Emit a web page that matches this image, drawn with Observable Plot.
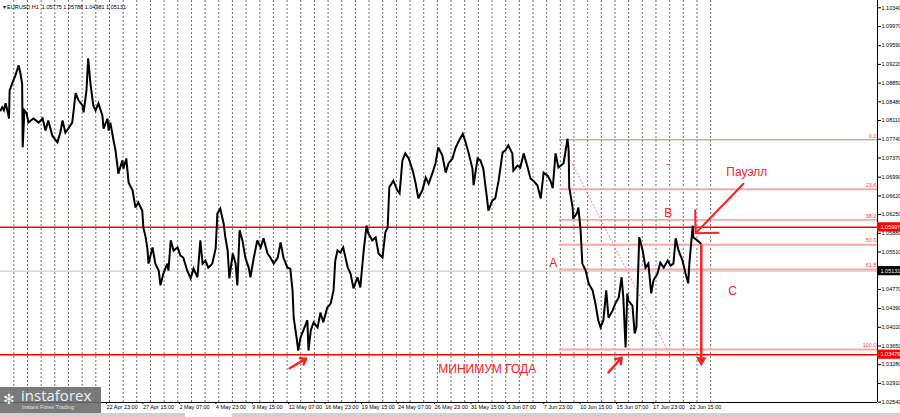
<!DOCTYPE html>
<html><head><meta charset="utf-8">
<script src="https://cdn.jsdelivr.net/npm/d3@7"></script>
<script src="https://cdn.jsdelivr.net/npm/@observablehq/plot@0.6"></script>
<style>
body{margin:0;background:#fff;font-family:"Liberation Sans",Arial,sans-serif;}
#wrap{position:relative;width:900px;height:417px;overflow:hidden;}
#chart svg{display:block}
#bar{height:4px;background:#d0d0d0;position:relative}
#bar div{position:absolute;left:185px;width:47px;top:0;height:4px;background:#fff}
#logo{position:absolute;left:0;top:387px;width:101px;height:26px;background:rgba(105,105,105,0.88);color:#f2f2f2}
#logo .big{position:absolute;left:21px;top:1px;font-family:"Open Sans",sans-serif;font-size:15px;line-height:15px;white-space:nowrap}
#logo .small{position:absolute;left:22px;top:17px;font-size:5.5px;line-height:7px;color:#e0e0e0;white-space:nowrap}
#logo .icon{position:absolute;left:3px;top:4px;font-size:14px;line-height:16px}
</style></head><body>
<div id="wrap">
<div id="chart"></div>
<div id="bar"><div></div></div>
<div id="logo"><span class="icon">✻</span><span class="big">instaforex</span><span class="small">Instant Forex Trading</span></div>
</div>
<script>
// ---- data ----
const priceBars = [0,3,6,9,12,15,16,21,26,32,35,38,39,42,46,49,58,67,74,79,84,91,100,105,109,114,119,126,132,137,144,146,151,154,158,163,167,172,179,181,188,190,193,198,202,207,214,216,221,225,232,237,242,249,251,255,258,260,267,272,278,281,286,293,295,299,304,311,316,321,328,334,339,346,351,355,360,365,372,378,381,386,392,395,399,402,408,413,416,420,425,430,436,439,444,451,457,462,469,474,480,487,492,497,504,509,513,515,520,523,527,532,539,541,545,550,557,562,567,574,580,585,588,592,597,602,610,615,620,627,632,638,643,646,653,659,664,671,676,680,683,690,697,701,706,711,717,724,729,734,741,747,752,759,764,769,776,782,787,794,799,804,812,817,822,829,831,838,843,848,855,857,864,869,875,882,887,892,899,901,908,913,919,926,931,936,943,949,954,961,966,970,975,980,989,996,998,999,1005,1006,1013,1015,1019,1022,1028,1033,1040,1045,1050,1054,1059,1064,1068,1075,1080,1086,1091,1094,1098,1101,1103,1110,1114,1117,1119,1122,1128,1133,1138,1143,1147,1154,1159,1165,1172,1177,1182,1186,1191,1198,1203,1208,1210,1216,1217,1224,1230];
const priceVals = [1.0831,1.0837,1.0831,1.0845,1.0831,1.0815,1.0870,1.0886,1.0900,1.0920,1.0904,1.0884,1.0758,1.0831,1.0825,1.0807,1.0815,1.0807,1.0815,1.0791,1.0811,1.0781,1.0768,1.0787,1.0811,1.0787,1.0795,1.0807,1.0865,1.0851,1.0841,1.0827,1.0870,1.0934,1.0884,1.0841,1.0831,1.0845,1.0821,1.0795,1.0815,1.0791,1.0807,1.0775,1.0752,1.0706,1.0732,1.0716,1.0736,1.0688,1.0673,1.0639,1.0649,1.0633,1.0599,1.0580,1.0558,1.0528,1.0560,1.0528,1.0514,1.0485,1.0508,1.0528,1.0514,1.0574,1.0554,1.0560,1.0544,1.0540,1.0514,1.0499,1.0518,1.0501,1.0574,1.0528,1.0534,1.0520,1.0528,1.0558,1.0627,1.0637,1.0607,1.0580,1.0554,1.0499,1.0548,1.0528,1.0485,1.0594,1.0574,1.0540,1.0520,1.0501,1.0534,1.0574,1.0560,1.0578,1.0548,1.0540,1.0528,1.0540,1.0570,1.0540,1.0520,1.0518,1.0475,1.0421,1.0382,1.0356,1.0382,1.0396,1.0416,1.0356,1.0396,1.0412,1.0402,1.0431,1.0412,1.0441,1.0449,1.0475,1.0534,1.0554,1.0550,1.0560,1.0520,1.0508,1.0479,1.0501,1.0481,1.0554,1.0603,1.0588,1.0574,1.0580,1.0548,1.0540,1.0590,1.0599,1.0679,1.0692,1.0673,1.0667,1.0732,1.0746,1.0736,1.0712,1.0688,1.0657,1.0673,1.0698,1.0686,1.0708,1.0726,1.0758,1.0742,1.0708,1.0726,1.0736,1.0756,1.0768,1.0785,1.0768,1.0748,1.0716,1.0683,1.0736,1.0732,1.0716,1.0653,1.0633,1.0653,1.0657,1.0692,1.0748,1.0752,1.0762,1.0746,1.0712,1.0722,1.0718,1.0746,1.0718,1.0696,1.0692,1.0683,1.0657,1.0708,1.0702,1.0692,1.0677,1.0746,1.0718,1.0726,1.0775,1.0752,1.0679,1.0639,1.0617,1.0629,1.0639,1.0594,1.0528,1.0514,1.0489,1.0475,1.0449,1.0416,1.0402,1.0416,1.0475,1.0421,1.0435,1.0449,1.0461,1.0501,1.0461,1.0362,1.0469,1.0455,1.0445,1.0390,1.0402,1.0475,1.0580,1.0554,1.0520,1.0528,1.0469,1.0495,1.0508,1.0530,1.0520,1.0534,1.0524,1.0528,1.0578,1.0554,1.0534,1.0510,1.0489,1.0528,1.0603,1.0580,1.0574,1.0568];

const dateLabels = ["22 Apr 23:00","27 Apr 15:00","2 May 07:00","4 May 23:00","9 May 15:00","12 May 07:00","16 May 23:00","19 May 15:00","24 May 07:00","26 May 23:00","31 May 15:00","3 Jun 07:00","7 Jun 23:00","10 Jun 15:00","15 Jun 07:00","17 Jun 23:00","22 Jun 15:00"];
const dateBars = [188,252,316,380,444,508,572,636,700,764,828,892,956,1020,1084,1148,1212];
const priceTicks = [1.10340,1.09970,1.09590,1.09220,1.08850,1.08480,1.08110,1.07740,1.07370,1.06990,1.06620,1.06250,1.05880,1.05510,1.04770,1.04390,1.04020,1.03650,1.03280,1.02910,1.02540];

const fibNames = ["0.0","23.6","38.2","50.0","61.8","100.0"];
const fibPrices = [1.07729,1.06750,1.06144,1.05655,1.05166,1.03581];
const fibStartBar = 982;
const fibDiagBars = [982,1172];
const fibDiagPrices = [1.0775,1.0356];

const levelPrices = [1.05997,1.03479];   // red horizontal levels
const bidPrice = 1.05131;
const boxPrices = [1.05997,1.05131,1.03479];

const headerText = "▾ EURUSD,H1  1.05775 1.05788 1.04981 1.05131";
const letterTexts = ["A","B","C"];
const letterBars = [971,1173,1286];
const letterPrices = [1.0528,1.0627,1.0473];
const noteTexts = ["Пауэлл","МИНИМУМ ГОДА"];
const noteBars = [1275,769];
const notePrices = [1.0708,1.0319];

const powellArrow = {x1:1305,y1:1.0686,x2:1221,y2:1.0588};
const smallArrows = [{x1:508,y1:1.0321,x2:537,y2:1.0340},{x1:1068,y1:1.0313,x2:1091,y2:1.0342}];
const downArrow = {x:1231,y1:1.0566,y2:1.0340,tip:1.0337};
const dashMark = {x:1172,y:1.0726};

// ---- chart ----
const xDom = [0,1540.5], yDom = [1.02533,1.10484];
const path = priceBars.map((b,i)=>({bar:b, price:priceVals[i]}));
const sepBars = d3.range(23.4, 1250, 24);
const fib = fibNames.map((n,i)=>({name:n, price:fibPrices[i]}));
const thinFib = new Set(["0.0","38.2"]);
const letters = letterTexts.map((t,i)=>({t, bar:letterBars[i], price:letterPrices[i]}));
const notes = noteTexts.map((t,i)=>({t, bar:noteBars[i], price:notePrices[i]}));
const boxW = 23/ (877/1540.5);
const boxH = 4.6*(yDom[1]-yDom[0])/402;
const RED = "#ff2020";
const F = 5.5;

const chart = Plot.plot({
  width:900, height:413,
  marginLeft:0, marginRight:23, marginTop:0, marginBottom:11,
  x:{domain:xDom, axis:null},
  y:{domain:yDom, axis:null},
  style:{fontFamily:"'Liberation Sans', Arial, sans-serif", background:"#fff", overflow:"visible"},
  marks:[
    Plot.ruleX(sepBars, {stroke:"#707070", strokeDasharray:"2,2", strokeWidth:1}),
    Plot.ruleY([bidPrice], {stroke:"#c4c4c4", strokeWidth:1}),
    Plot.ruleY(fib.filter(d=>!thinFib.has(d.name)), {y:"price", x1:fibStartBar, x2:xDom[1], stroke:"#f6a9a9", strokeWidth:2}),
    Plot.ruleY(fib.filter(d=>thinFib.has(d.name)), {y:"price", x1:fibStartBar, x2:xDom[1], stroke:"#f26a6a", strokeWidth:1}),
    Plot.link([0], {x1:()=>fibDiagBars[0], y1:()=>fibDiagPrices[0], x2:()=>fibDiagBars[1], y2:()=>fibDiagPrices[1], stroke:"#f07070", strokeDasharray:"1.5,2", strokeWidth:1}),
    Plot.ruleY(levelPrices, {stroke:"#ff0000", strokeWidth:1.5}),
    Plot.line(path, {x:"bar", y:"price", stroke:"#000", strokeWidth:2, strokeLinejoin:"miter", strokeMiterlimit:3}),
    Plot.ruleX([xDom[1]], {stroke:"#000"}),
    Plot.ruleY([yDom[0]], {stroke:"#000"}),
    Plot.axisY({anchor:"right", ticks:priceTicks, tickFormat:d=>d.toFixed(5), tickSize:3, tickPadding:1, fontSize:F, label:null}),
    Plot.axisX({anchor:"bottom", ticks:dateBars, tickFormat:d=>dateLabels[dateBars.indexOf(d)], tickSize:2, tickPadding:1, textAnchor:"start", dx:-1, fontSize:F, label:null}),
    Plot.rect(boxPrices, {x1:xDom[1], x2:xDom[1]+boxW, y1:d=>d-boxH, y2:d=>d+boxH, fill:(d,i)=>i===1?"#000":"#ff0000"}),
    Plot.text(boxPrices, {x:xDom[1], y:d=>d, text:d=>d.toFixed(5), dx:3, textAnchor:"start", fill:"#fff", fontSize:F}),
    Plot.text(fib, {x:xDom[1], y:"price", text:"name", textAnchor:"end", dx:-1, dy:-4, fill:"#ff4040", fontSize:F}),
    Plot.text([headerText], {frameAnchor:"top-left", dx:2, dy:5, textAnchor:"start", fontSize:F, fill:"#000"}),
    Plot.text(letters, {x:"bar", y:"price", text:"t", fill:RED, fontSize:12, textAnchor:"middle"}),
    Plot.text(notes, {x:"bar", y:"price", text:"t", fill:RED, fontSize:12, textAnchor:"start"}),
    Plot.text([dashMark], {x:"x", y:"y", text:()=>"-", fill:RED, fontSize:10}),
    Plot.arrow([powellArrow], {x1:"x1", y1:"y1", x2:"x2", y2:"y2", stroke:RED, strokeWidth:2, headAngle:90, headLength:18, bend:0}),
    Plot.arrow(smallArrows, {x1:"x1", y1:"y1", x2:"x2", y2:"y2", stroke:RED, strokeWidth:2.5, headAngle:70, headLength:7, bend:0}),
    Plot.link([downArrow], {x1:"x", x2:"x", y1:"y1", y2:"y2", stroke:RED, strokeWidth:2.5}),
    Plot.dot([downArrow], {x:"x", y:"tip", symbol:"triangle2", rotate:180, r:5, fill:RED}),
  ]
});
document.getElementById("chart").appendChild(chart);
</script>
</body></html>
